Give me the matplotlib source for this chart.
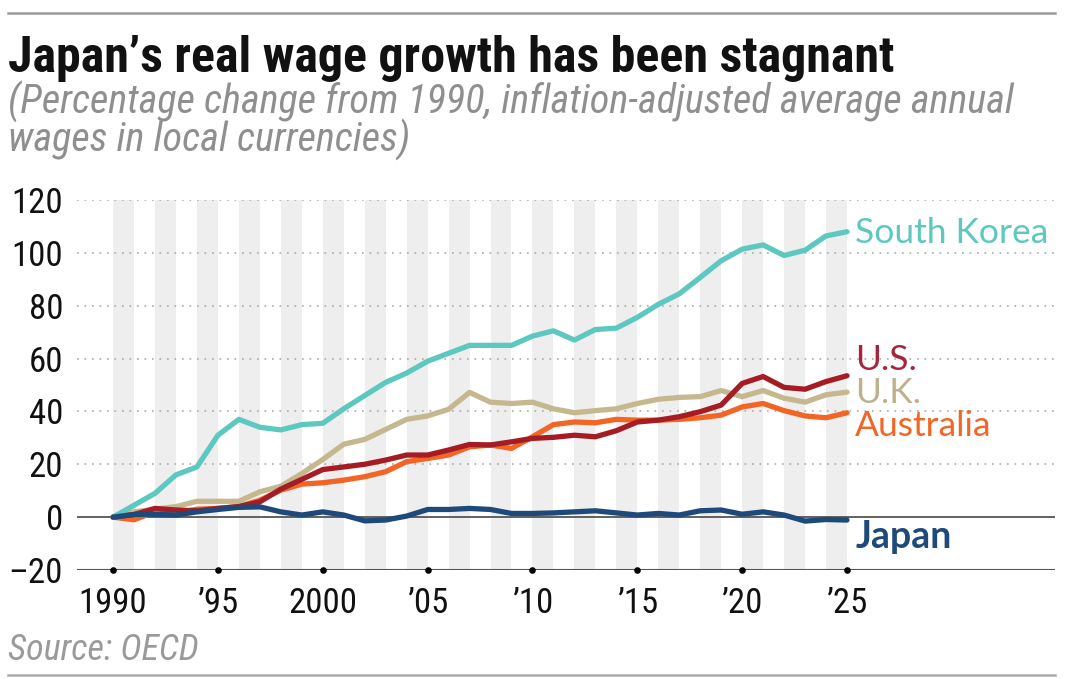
import matplotlib.pyplot as plt
import numpy as np

years = np.arange(1990, 2026)

south_korea = [0, 4.5, 9, 16, 19, 31, 37, 34, 33, 35, 35.5, 41, 46, 51, 54.5, 59, 62, 65,
               65, 65, 68.5, 70.5, 67, 71, 71.5, 75.6, 80.5, 84.5, 90.7, 97, 101.4, 103,
               99, 101, 106.4, 108]
uk = [0, 2, 3, 4, 6, 6, 6, 9.6, 11.7, 16.5, 21.8, 27.6, 29.4, 33.2, 37, 38.3, 40.8, 47.2,
      43.5, 43, 43.5, 41, 39.5, 40.3, 41, 43, 44.6, 45.3, 45.6, 47.9, 45.6, 47.9,
      45, 43.5, 46.3, 47.3]
us = [0, 1, 3.3, 2.7, 2.4, 3.3, 4, 5.8, 10.6, 14.3, 18, 19, 20, 21.6, 23.5, 23.5, 25.4, 27.5,
      27.3, 28.5, 29.8, 30.2, 31, 30.4, 32.7, 36, 36.7, 38, 39.9, 42.4, 50.6, 53.2,
      49.1, 48.4, 51.3, 53.5]
australia = [0, -1, 2, 1.6, 3, 3.3, 4, 6.4, 10.2, 12.5, 13, 14, 15.3, 17.2, 21, 22.2, 23.5, 26.6,
             27.3, 26, 30.4, 35, 36, 35.7, 37, 36.7, 36.7, 37, 37.6, 38.6, 41.7, 43,
             40.3, 38.3, 37.6, 39.5]
japan = [0, 1, 1.1, 0.8, 2, 2.9, 3.7, 3.9, 2, 0.8, 2, 0.8, -1.4, -1.1, 0.4, 2.9, 2.9, 3.3,
         2.9, 1.4, 1.4, 1.6, 2, 2.4, 1.6, 0.8, 1.4, 0.8, 2.4, 2.7, 1.1, 2,
         0.8, -1.5, -0.9, -1.1]

xticks = [1990, 1995, 2000, 2005, 2010, 2015, 2020, 2025]
xtick_labels = ['1990', '\u201995', '2000', '\u201905', '\u201910', '\u201915', '\u201920', '\u201925']
yticks = [-20, 0, 20, 40, 60, 80, 100, 120]
ytick_labels = ['\u201320', '0', '20', '40', '60', '80', '100', '120']

# series: name, values, line colour, label colour, label y, bold
series = [
    ('Australia', australia, '#f26524', '#f26524', 34.5, False),
    ('U.K.', uk, '#c5b88f', '#bdb08a', 47, False),
    ('U.S.', us, '#a51c24', '#a8243a', 59.5, False),
    ('South Korea', south_korea, '#5cc8bf', '#5cc8bf', 107.5, False),
    ('Japan', japan, '#1d4a7a', '#1d4a7a', -7.5, True),
]

cond = ['Liberation Sans Narrow', 'Roboto Condensed', 'DejaVu Sans']
plain = ['Lato', 'DejaVu Sans']

fig = plt.figure(figsize=(10.66, 6.79), dpi=100)
ax = fig.add_axes([77/1066, 1-570/679, 978/1066, 370/679])

ax.set_xlim(1988.28, 2034.92)
ax.set_ylim(-20, 120)

for yr in range(1990, 2025, 2):
    ax.axvspan(yr, yr+1, color='#eeeeee', lw=0, zorder=0)

for y in yticks[2:]:
    ax.axhline(y, color='#aaaaaa', lw=1.2, ls=(0, (1, 3.5)), zorder=1)
ax.axhline(0, color='#555555', lw=1.3, zorder=2)
ax.axhline(-20, color='#555555', lw=1.5, zorder=2)

for name, vals, col, lcol, ly, bold in series:
    ax.plot(years, vals, color=col, lw=3.8, solid_capstyle='round', solid_joinstyle='round', zorder=3)
    ax.text(2025.4, ly, name, color=lcol, fontsize=27 if bold else 25.5,
            fontweight='bold' if bold else 'normal', family=plain, va='center', ha='left')

ax.scatter(xticks, [-20]*len(xticks), s=14, color='black', zorder=4, clip_on=False)

for s in ax.spines.values():
    s.set_visible(False)
ax.set_xticks(xticks)
ax.set_xticklabels(xtick_labels, family=cond, fontsize=25)
ax.set_yticks(yticks)
ax.set_yticklabels(ytick_labels, family=cond, fontsize=25)
ax.tick_params(axis='both', length=0, colors='#111111')
ax.tick_params(axis='x', pad=12)
ax.tick_params(axis='y', pad=10)

fig.text(8/1066, 1-58/679, 'Japan\u2019s real wage growth has been stagnant', fontsize=36,
         fontweight='bold', family=cond, va='center', ha='left', color='#111111')
fig.text(8/1066, 1-102/679, '(Percentage change from 1990, inflation-adjusted average annual',
         fontsize=29, style='italic', family=cond, va='center', ha='left', color='#8f8f8f')
fig.text(8/1066, 1-140/679, 'wages in local currencies)',
         fontsize=29, style='italic', family=cond, va='center', ha='left', color='#8f8f8f')
fig.text(8/1066, 1-650/679, 'Source: OECD', fontsize=26, style='italic',
         family=cond, va='center', ha='left', color='#9a9a9a')

fig.add_artist(plt.Line2D([8/1066, 1055/1066], [1-13/679, 1-13/679], color='#999999', lw=1.8))
fig.add_artist(plt.Line2D([8/1066, 1055/1066], [1-675/679, 1-675/679], color='#aaaaaa', lw=1.8))

fig.savefig('out.png', dpi=100)
